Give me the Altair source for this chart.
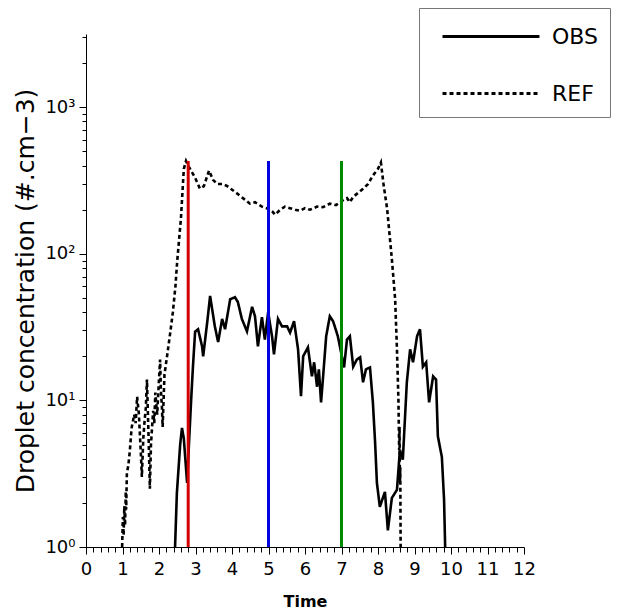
import altair as alt
import pandas as pd

# ---- data ----
ref_t = [0.99, 1.01, 1.03, 1.05, 1.07, 1.09, 1.10, 1.12, 1.16, 1.20, 1.25, 1.32, 1.36, 1.40, 1.45, 1.51,
         1.53, 1.57, 1.60, 1.64, 1.67, 1.72, 1.75, 1.78, 1.80, 1.84, 1.87, 1.90, 1.95, 2.00, 2.03, 2.05,
         2.08, 2.10, 2.15, 2.22, 2.30, 2.38, 2.45, 2.50, 2.60,
         2.68, 2.74, 2.80, 2.99, 3.12, 3.23, 3.37, 3.48, 3.59, 3.73, 3.86, 4.08, 4.30, 4.49, 4.63,
         4.82, 4.99, 5.10, 5.18, 5.32, 5.45, 5.59, 5.73, 5.86, 6.00, 6.14, 6.33, 6.49, 6.68, 6.85,
         7.01, 7.15, 7.23, 7.32, 7.45, 7.59, 7.73, 7.86, 8.00, 8.08, 8.15, 8.25, 8.38, 8.47, 8.52,
         8.56, 8.58, 8.59, 8.60, 8.61, 8.62]
ref_v = [1.0, 1.6, 1.2, 1.9, 1.4, 2.4, 1.8, 3.2, 3.6, 4.5, 6.5, 8.0, 7.0, 10.6, 8.0, 4.0,
         3.0, 5.5, 7.0, 9.0, 13.9, 5.0, 2.5, 5.0, 6.0, 8.5, 7.0, 11.3, 8.0, 14.0, 19.0, 12.0,
         9.0, 6.6, 15.0, 20.0, 28.0, 40.0, 60.0, 90.0, 173.0,
         380.0, 430.0, 400.0, 330.0, 279.0, 290.0, 370.0, 320.0, 300.0, 300.0, 291.0, 265.0, 240.0, 220.0, 225.0,
         210.0, 203.0, 195.0, 185.0, 200.0, 210.0, 205.0, 200.0, 197.0, 205.0, 200.0, 210.0, 208.0, 220.0, 215.0,
         230.0, 240.0, 225.0, 245.0, 260.0, 278.0, 300.0, 342.0, 380.0, 420.0, 300.0, 203.0, 92.0, 49.0, 22.0,
         10.0, 4.6, 6.6, 2.7, 3.5, 1.0]

obs_t = [2.44, 2.49, 2.58, 2.63, 2.68, 2.77, 2.82, 2.88, 2.93, 2.99, 3.07, 3.18, 3.21, 3.32, 3.40,
         3.53, 3.62, 3.73, 3.81, 3.95, 4.08, 4.16, 4.27, 4.41, 4.55, 4.63, 4.71, 4.82, 4.90, 4.99,
         5.10, 5.15, 5.26, 5.37, 5.51, 5.59, 5.70, 5.81, 5.89, 5.95, 6.08, 6.19, 6.25, 6.33, 6.38,
         6.44, 6.49, 6.58, 6.68, 6.77, 6.90, 7.01, 7.07, 7.15, 7.23, 7.32, 7.42, 7.51, 7.59, 7.67,
         7.78, 7.86, 7.92, 7.97, 8.05, 8.19, 8.27, 8.38, 8.52, 8.60, 8.68, 8.79, 8.88, 8.96, 9.07,
         9.15, 9.23, 9.32, 9.40, 9.51, 9.59, 9.64, 9.75, 9.81, 9.84]
obs_v = [1.0, 2.34, 5.0, 6.5, 5.5, 2.74, 5.0, 10.0, 17.0, 29.5, 30.6, 23.4, 20.0, 34.0, 51.6,
         32.0, 25.0, 36.0, 30.6, 49.0, 50.6, 47.0, 36.0, 29.6, 43.5, 37.5, 23.4, 37.0, 26.0, 40.0,
         27.0, 20.6, 36.0, 32.0, 32.0, 29.0, 34.7, 22.3, 10.7, 20.0, 23.0, 14.6, 18.2, 12.4, 16.3,
         9.7, 13.9, 27.4, 37.5, 34.7, 27.4, 20.0, 16.8, 26.0, 27.4, 17.0, 19.0, 19.7, 13.3, 16.3,
         16.8, 9.7, 5.2, 2.74, 1.88, 2.38, 1.3, 2.16, 2.46, 4.6, 3.94, 13.3, 22.3, 18.2, 27.4,
         30.6, 17.0, 18.2, 9.7, 14.6, 13.9, 5.7, 4.1, 2.1, 1.0]

vline_t = [2.8, 5.0, 7.0]
vline_top = [430, 430, 430]
vline_color = ["#d40000", "#0000e0", "#008a00"]

series_names = ["OBS", "REF"]
x_ticks = [round(i * 0.2, 1) for i in range(61)]
y_ticks = [1, 2, 3, 4, 5, 6, 7, 8, 9, 10, 20, 30, 40, 50, 60, 70, 80, 90,
           100, 200, 300, 400, 500, 600, 700, 800, 900, 1000, 2000, 3000]

# ---- tables ----
lines_df = pd.concat([
    pd.DataFrame({"t": obs_t, "v": obs_v, "series": "OBS", "o": range(len(obs_t))}),
    pd.DataFrame({"t": ref_t, "v": ref_v, "series": "REF", "o": range(len(ref_t))}),
])
vl_df = pd.DataFrame({"t": vline_t, "lo": [1] * 3, "hi": vline_top, "c": vline_color})

FONT = "DejaVu Sans"

xscale = alt.Scale(domain=[0, 12], nice=False, zero=False)
yscale = alt.Scale(type="log", domain=[1, 3162.28], nice=False)

xaxis = alt.Axis(
    values=x_ticks, tickCount=200,
    labelExpr="abs(datum.value - round(datum.value)) < 0.001 ? format(datum.value, 'd') : ''",
    title="Time", titleFont=FONT, titleFontSize=16, titleFontWeight="bold", titleColor="black",
    titlePadding=15,
    labelFont=FONT, labelFontSize=18, labelColor="black", labelPadding=6,
    tickSize={"condition": {"test": "abs(datum.value - round(datum.value)) < 0.001", "value": 7}, "value": 5},
    tickColor="black", domainColor="black", grid=False, labelFlush=False, labelOverlap=False,
)
yaxis = alt.Axis(
    values=y_ticks, tickCount=200,
    labelExpr="datum.value == 1 ? '10⁰' : datum.value == 10 ? '10¹' : datum.value == 100 ? '10²' : datum.value == 1000 ? '10³' : ''",
    title="Droplet concentration (#.cm−3)", titleFont=FONT, titleFontSize=25,
    titleFontWeight="normal", titleColor="black", titlePadding=6,
    labelFont=FONT, labelFontSize=18, labelColor="black", labelPadding=4,
    tickSize={"condition": {"test": "indexof([1,10,100,1000], datum.value) >= 0", "value": 7}, "value": 4},
    tickColor="black", domainColor="black", grid=False, labelFlush=False, labelOverlap=False,
)

lines = alt.Chart(lines_df).mark_line(color="black", strokeWidth=2.6).encode(
    x=alt.X("t:Q", scale=xscale, axis=xaxis),
    y=alt.Y("v:Q", scale=yscale, axis=yaxis),
    order="o:Q",
    strokeDash=alt.StrokeDash(
        "series:N",
        scale=alt.Scale(domain=series_names, range=[[1, 0], [4, 3]]),
        legend=alt.Legend(
            title=None, orient="none", legendX=333, legendY=-26,
            symbolType="M-0.333,0L6.13,0", symbolSize=900, symbolStrokeWidth=3,
            symbolStrokeColor="black",
            labelFont=FONT, labelFontSize=22, labelColor="black", labelOffset=88,
            padding=12, rowPadding=29, strokeColor="#777777", fillColor="white",
        ),
    ),
)

rules = alt.Chart(vl_df).mark_rule(strokeWidth=3).encode(
    x=alt.X("t:Q", scale=xscale),
    y=alt.Y("lo:Q", scale=yscale),
    y2="hi:Q",
    color=alt.Color("c:N", scale=None),
)

chart = alt.layer(lines, rules).properties(
    width=438, height=513,
    autosize=alt.AutoSizeParams(type="none"),
    padding={"left": 86, "top": 34, "right": 97, "bottom": 64},
    background="white",
).configure_view(stroke=None)

chart.save("out.html", embed_options={"renderer": "svg", "actions": False})
